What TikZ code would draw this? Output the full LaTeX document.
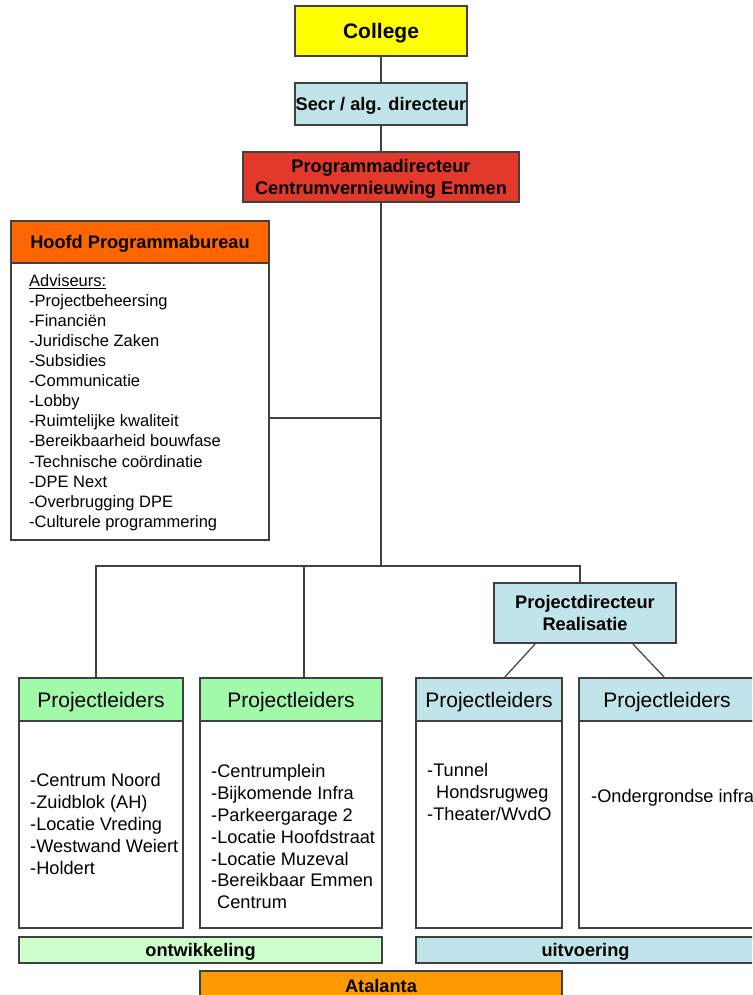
\documentclass[tikz,border=0pt]{standalone}
\usepackage{fontspec}
\setmainfont{Liberation Sans}
\usetikzlibrary{positioning}
\definecolor{edge}{RGB}{64,64,64}
\definecolor{collegeyellow}{RGB}{255,255,0}
\definecolor{secrblue}{RGB}{192,228,234}
\definecolor{pgmred}{RGB}{227,57,42}
\definecolor{hoofdorange}{RGB}{255,102,0}
\definecolor{leadgreen}{RGB}{160,250,170}
\definecolor{ontwgreen}{RGB}{204,255,204}
\definecolor{atalorange}{RGB}{255,153,0}

\begin{document}
\begin{tikzpicture}[x=1pt,y=-1pt,node distance=0pt]
\tikzstyle{box}=[draw=edge,line width=1.1pt,inner sep=0pt,outer sep=0pt]
\tikzstyle{title}=[box,align=center,text depth=0pt,font=\fontsize{18.2}{21.8}\selectfont\bfseries]
\tikzstyle{leader}=[box,minimum height=43pt,text depth=0pt,font=\fontsize{21}{25}\selectfont]
\tikzstyle{body}=[box,fill=white,minimum height=207pt]
\tikzstyle{list}=[inner sep=0pt,align=left,font=\fontsize{18.2}{21.8}\selectfont]
\tikzstyle{link}=[draw=edge,line width=1.2pt]

\useasboundingbox (0,0) rectangle (752,995);
\clip (0,0) rectangle (752,995);

% top of the chart
\node [title,fill=collegeyellow,minimum width=172pt,minimum height=50pt,
       font=\fontsize{21}{25}\selectfont\bfseries] (college) at (381,31) {College};
\node [title,fill=secrblue,minimum width=172pt,minimum height=42pt] (secr) at (381,104) {Secr / alg. directeur};
\node [title,fill=pgmred,minimum width=276pt,minimum height=50pt] (pgmdir) at (381,177)
      {Programmadirecteur\\Centrumvernieuwing Emmen};

% programmabureau
\node [title,fill=hoofdorange,minimum width=258pt,minimum height=42pt] (hoofd) at (140,242) {Hoofd Programmabureau};
\node [body,minimum width=258pt,minimum height=277pt,below=of hoofd] (hoofdbody) {};
\node [list,font=\fontsize{16.5}{20.1}\selectfont,below right=11pt and 18pt of hoofdbody.north west] (adviseurs)
      {\underline{Adviseurs:}\\-Projectbeheersing\\-Financiën\\-Juridische Zaken\\-Subsidies\\-Communicatie\\-Lobby\\
       -Ruimtelijke kwaliteit\\-Bereikbaarheid bouwfase\\-Technische coördinatie\\-DPE Next\\-Overbrugging DPE\\
       -Culturele programmering};

\node [title,fill=secrblue,minimum width=182pt,minimum height=60pt] (projdir) at (585,613) {Projectdirecteur\\Realisatie};

% projectleiders
\node [leader,fill=leadgreen,minimum width=164pt] (hdr1) at (101,699.5) {Projectleiders};
\node [body,minimum width=164pt,below=of hdr1] (body1) {};
\node [leader,fill=leadgreen,minimum width=182pt] (hdr2) at (291,699.5) {Projectleiders};
\node [body,minimum width=182pt,below=of hdr2] (body2) {};
\node [leader,fill=secrblue,minimum width=146pt] (hdr3) at (489,699.5) {Projectleiders};
\node [body,minimum width=146pt,below=of hdr3] (body3) {};
\node [leader,fill=secrblue,minimum width=176pt] (hdr4) at (667,699.5) {Projectleiders};
\node [body,minimum width=176pt,below=of hdr4] (body4) {};

\node [list,below right=52.5pt and 11pt of body1.north west] (list1)
      {-Centrum Noord\\-Zuidblok (AH)\\-Locatie Vreding\\-Westwand Weiert\\-Holdert};
\node [list,below right=43.5pt and 11pt of body2.north west] (list2)
      {-Centrumplein\\-Bijkomende Infra\\-Parkeergarage 2\\-Locatie Hoofdstraat\\-Locatie Muzeval\\
       -Bereikbaar Emmen\\\hspace*{6pt}Centrum};
\node [list,below right=42.5pt and 11pt of body3.north west] (list3)
      {-Tunnel\\\hspace*{9pt}Hondsrugweg\\-Theater/WvdO};
\node [list,below right=68.5pt and 12pt of body4.north west] (list4) {-Ondergrondse infra};

% fases
\node [title,fill=ontwgreen,minimum width=363pt,minimum height=26pt] (ontw) at (200.5,950) {ontwikkeling};
\node [title,fill=secrblue,minimum width=339pt,minimum height=26pt] (uitv) at (585.5,950) {uitvoering};
\node [title,fill=atalorange,minimum width=362pt,minimum height=30pt] (atalanta) at (381,986) {Atalanta};

% lines
\coordinate (bus) at (381,566);
\coordinate (side) at (381,418);
\draw[link] (college) -- (secr);
\draw[link] (secr) -- (pgmdir);
\draw[link] (pgmdir) -- (bus);
\draw[link] (hoofdbody.east |- side) -- (side);
\draw[link] ([xshift=-5pt]hdr1.north) |- (bus) -| ([xshift=-5pt]projdir.north);
\draw[link] ([xshift=13pt]hdr2.north) -- ([xshift=13pt]hdr2.north |- bus);
\draw[link] ([xshift=-49pt]projdir.south) -- ([xshift=15pt]hdr3.north);
\draw[link] ([xshift=47pt]projdir.south) -- ([xshift=-2pt]hdr4.north);
\end{tikzpicture}
\end{document}
